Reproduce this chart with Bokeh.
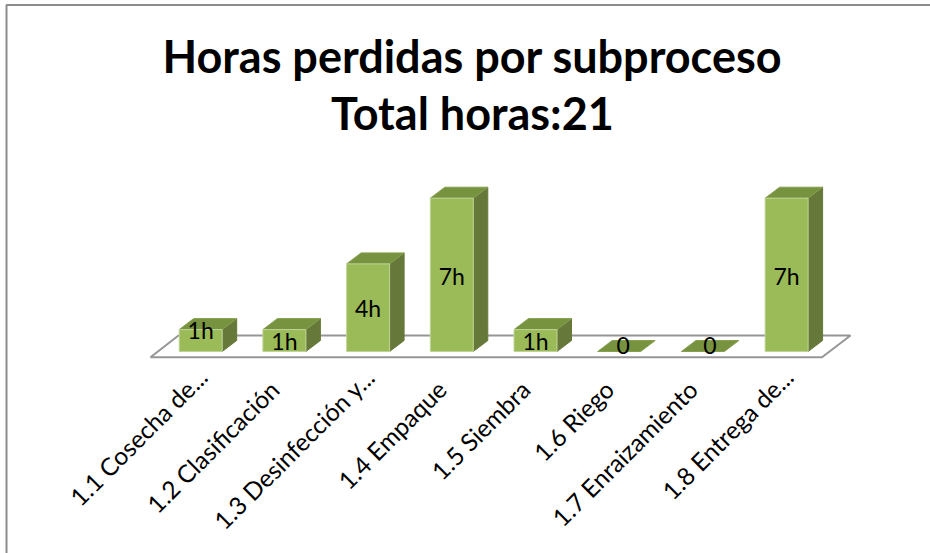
from bokeh.plotting import figure
from bokeh.embed import file_html
from bokeh.resources import INLINE
from bokeh.core.properties import value
from bokeh.models import Range1d

categories = ["1.1 Cosecha de...", "1.2 Clasificación", "1.3 Desinfección y...", "1.4 Empaque",
              "1.5 Siembra", "1.6 Riego", "1.7 Enraizamiento", "1.8 Entrega de..."]
hours = [1, 1, 4, 7, 1, 0, 0, 7]
bar_labels = ["1h", "1h", "4h", "7h", "1h", "0", "0", "7h"]
title_lines = ["Horas perdidas por subproceso", "Total horas:21"]

W, H = 930, 553
x0_px, step_px, base_px, hour_px = 200.2, 83.7, 351.0, 21.9
sx = 1 / step_px
sy = 1 / hour_px

p = figure(width=W, height=H, output_backend="svg", toolbar_location=None,
           x_range=Range1d(-x0_px * sx, (W - x0_px) * sx),
           y_range=Range1d((base_px - H) * sy, base_px * sy),
           min_border=0, styles={"position": "absolute", "left": "0px", "top": "0px"},
           background_fill_color="white", border_fill_color="white")
p.axis.visible = False
p.grid.visible = False
p.outline_line_color = None

def X(px):
    return (px - x0_px) * sx
def Y(px):
    return (base_px - px) * sy

# chart-area border (top and left only)
p.line([X(6), X(6), X(W)], [Y(H), Y(4.5), Y(4.5)], line_color="#8c8c8c", line_width=2)

# floor
p.patch([X(150), X(821.5), X(850), X(178)], [Y(356.7), Y(356.7), Y(335), Y(335)],
        fill_color="white", line_color="#969696", line_width=2)

half = 21.5 * sx
dx = 14.5 * sx
dy = 11 * sy
xs = list(range(len(hours)))

top_x = [[i - half, i + half, i + half + dx, i - half + dx] for i in xs]
top_y = [[h, h, h + dy, h + dy] for h in hours]
side_x = [[i + half, i + half + dx, i + half + dx, i + half] for i in xs if hours[i] > 0]
side_y = [[0, dy, h + dy, h] for h in hours if h > 0]

p.patches(side_x, side_y, fill_color="#66793a", line_color="#66793a", line_width=1)
p.patches(top_x, top_y, fill_color="#779340", line_color="#86a04f", line_width=1)
bx = [i for i in xs if hours[i] > 0]
bh = [hours[i] for i in bx]
p.vbar(x=bx, top=bh, bottom=0, width=2 * half, fill_color="#9bbb59", line_color="#c0d498", line_width=1)

# data labels
label_y = [h / 2 for h in hours]
label_off_y = [-11, 0, 0, 1, 0, -6, -6, 1]
label_off_x = [0, 0, 0, 0, 0, 4, 7, 0]
p.text(x=xs, y=label_y, text=bar_labels, x_offset=label_off_x, y_offset=label_off_y,
       text_align="center", text_baseline="middle",
       text_font=value("Lato"), text_font_size="23px", text_color="black")

# category labels: the ones cut with an ellipsis reach further up and to the right
cat_off_x = [2 if c.endswith("...") else -10 for c in categories]
cat_off_y = [5 if c.endswith("...") else 17.5 for c in categories]
p.text(x=xs, y=[Y(367)] * len(xs), text=categories, angle=45, angle_units="deg",
       x_offset=cat_off_x, y_offset=cat_off_y,
       text_align="right", text_baseline="middle",
       text_font=value("Lato"), text_font_size="24.5px", text_color="black")

# title
p.text(x=[X(472), X(472)], y=[Y(55), Y(112.5)], text=title_lines, text_align="center", text_baseline="middle",
       text_font=value("Lato"), text_font_style="bold", text_font_size="45px", text_color="black")

open("out.html", "w").write(file_html(p, INLINE))
